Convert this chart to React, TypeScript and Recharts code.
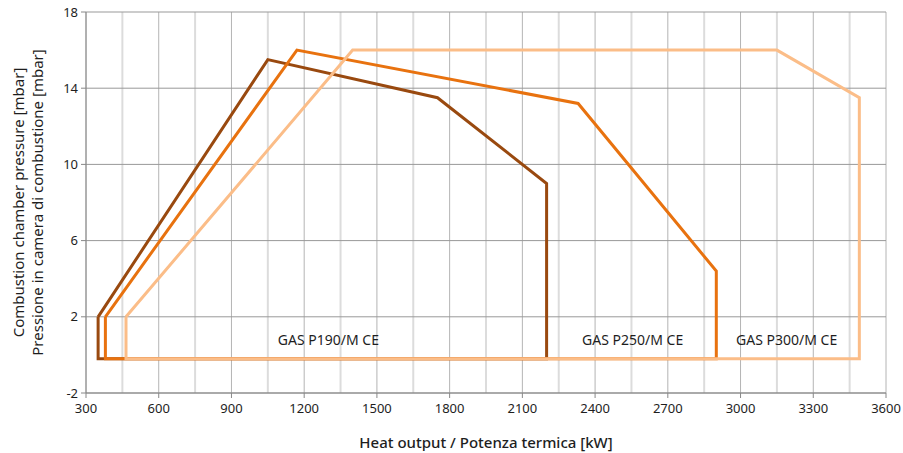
import { LineChart, Line, XAxis, YAxis, CartesianGrid, ReferenceDot } from 'recharts'

// heat output [kW] / combustion chamber pressure [mbar], closed outlines
const p190Output = [350, 1050, 1750, 2200, 2200, 350, 350]
const p190Pressure = [2, 15.5, 13.5, 9, -0.2, -0.2, 2]

const p250Output = [380, 1170, 2330, 2900, 2900, 380, 380]
const p250Pressure = [2, 16, 13.2, 4.4, -0.2, -0.2, 2]

const p300Output = [465, 1400, 3150, 3490, 3490, 465, 465]
const p300Pressure = [2, 16, 16, 13.5, -0.2, -0.2, 2]

const xTicks = [300, 600, 900, 1200, 1500, 1800, 2100, 2400, 2700, 3000, 3300, 3600]
const xMinorGrid = [450, 750, 1050, 1350, 1650, 1950, 2250, 2550, 2850, 3150, 3450]
const yTicks = [-2, 2, 6, 10, 14, 18]

const series = [
  { name: 'GAS P190/M CE', output: p190Output, pressure: p190Pressure, color: '#99490f', labelAt: [1300, 0.8] },
  { name: 'GAS P250/M CE', output: p250Output, pressure: p250Pressure, color: '#e8720f', labelAt: [2555, 0.8] },
  { name: 'GAS P300/M CE', output: p300Output, pressure: p300Pressure, color: '#fbbd88', labelAt: [3190, 0.8] },
]

const FONT = '"Noto Sans", sans-serif'
const TEXT = '#1e1e1e'

const gridAt = (values: number[]) => (props: any) => {
  const { xAxis, offset } = props
  const scale = xAxis && xAxis.scale
  if (typeof scale === 'function') return values.map((v) => scale(v))
  if (scale && typeof scale.map === 'function') return values.map((v) => scale.map(v))
  return values.map((v) => offset.left + ((v - 300) / 3300) * offset.width)
}

const YLabel = (props: any) => {
  const vb = props.viewBox || {}
  const cy = vb.y + vb.height / 2
  return (
    <g fontFamily={FONT} fontSize={15} fill={TEXT}>
      <text x={18} y={cy} transform={`rotate(-90 18 ${cy})`} textAnchor="middle" dominantBaseline="central">
        Combustion chamber pressure [mbar]
      </text>
      <text x={37} y={cy} transform={`rotate(-90 37 ${cy})`} textAnchor="middle" dominantBaseline="central">
        Pressione in camera di combustione [mbar]
      </text>
    </g>
  )
}

export default function App() {
  return (
    <div style={{ position: 'absolute', left: 0, top: 0, width: 903, height: 453 }}>
      <LineChart width={903} height={453} margin={{ top: 12, right: 17, left: 8, bottom: 0 }}>
        <CartesianGrid
          horizontal={false}
          stroke="#dcdcdc"
          strokeWidth={2}
          verticalCoordinatesGenerator={gridAt(xMinorGrid)}
        />
        <CartesianGrid
          horizontal={false}
          stroke="#b4b4b4"
          verticalCoordinatesGenerator={gridAt(xTicks)}
        />
        <CartesianGrid vertical={false} stroke="#999" />
        <XAxis
          type="number"
          dataKey="x"
          domain={[300, 3600]}
          ticks={xTicks}
          interval={0}
          allowDataOverflow
          height={60}
          stroke="#888"
          tickSize={5}
          tickMargin={6}
          tick={{ fill: TEXT, fontSize: 13, fontFamily: FONT }}
          label={{
            value: 'Heat output / Potenza termica [kW]',
            position: 'insideBottom',
            offset: 5,
            fill: TEXT,
            fontSize: 15,
            fontFamily: FONT,
            fontWeight: 500,
          }}
        />
        <YAxis
          type="number"
          dataKey="y"
          domain={[-2, 18]}
          ticks={yTicks}
          width={78}
          stroke="#888"
          tickSize={5}
          tickMargin={3}
          tick={{ fill: TEXT, fontSize: 13, fontFamily: FONT }}
          label={{ content: <YLabel /> }}
        />
        {series.map((s) => (
          <Line
            key={s.name}
            data={s.output.map((x, i) => ({ x, y: s.pressure[i] }))}
            dataKey="y"
            stroke={s.color}
            strokeWidth={3}
            strokeLinejoin="miter"
            dot={false}
            activeDot={false}
            isAnimationActive={false}
          />
        ))}
        {series.map((s) => (
          <ReferenceDot
            key={`lbl-${s.name}`}
            x={s.labelAt[0]}
            y={s.labelAt[1]}
            r={0}
            fill="none"
            stroke="none"
            label={{ value: s.name, position: 'center', fill: TEXT, fontSize: 14, fontFamily: FONT }}
          />
        ))}
      </LineChart>
    </div>
  )
}
